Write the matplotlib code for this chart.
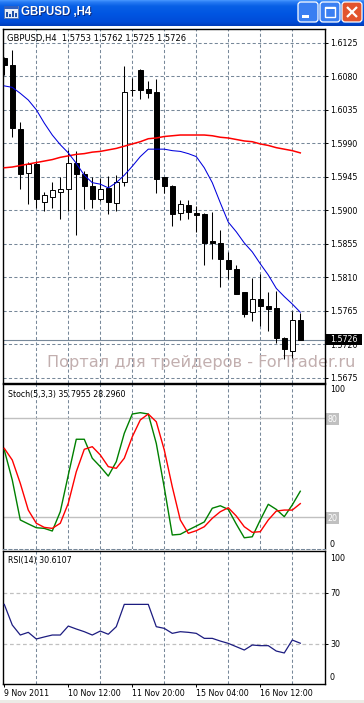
import numpy as np
import matplotlib
matplotlib.use('Agg')
import matplotlib.pyplot as plt
from matplotlib.patches import Rectangle, FancyBboxPatch
from matplotlib.transforms import blended_transform_factory

# GBPUSD H4 bars
opens = [1.6104, 1.6095, 1.6009, 1.5950, 1.5962, 1.5911, 1.5918, 1.5925, 1.5928, 1.5964,
         1.5948, 1.5933, 1.5915, 1.5930, 1.5910, 1.5938, 1.6062, 1.6088, 1.6063, 1.6059,
         1.5944, 1.5933, 1.5896, 1.5907, 1.5896, 1.5895, 1.5859, 1.5856, 1.5833, 1.5821,
         1.5790, 1.5763, 1.5781, 1.5771, 1.5769, 1.5728, 1.5711, 1.5753]
highs = [1.6106, 1.6115, 1.6019, 1.5965, 1.5966, 1.5925, 1.5938, 1.5944, 1.5981, 1.5979,
         1.5952, 1.5945, 1.5943, 1.5946, 1.5947, 1.6094, 1.6077, 1.6089, 1.6073, 1.6076,
         1.5945, 1.5934, 1.5914, 1.5914, 1.5905, 1.5896, 1.5897, 1.5873, 1.5844, 1.5826,
         1.5790, 1.5809, 1.5814, 1.5790, 1.5791, 1.5730, 1.5764, 1.5762]
lows = [1.6082, 1.5999, 1.5929, 1.5909, 1.5903, 1.5899, 1.5903, 1.5888, 1.5899, 1.5867,
        1.5902, 1.5903, 1.5913, 1.5895, 1.5899, 1.5933, 1.6053, 1.6050, 1.6051, 1.5923,
        1.5923, 1.5879, 1.5887, 1.5888, 1.5871, 1.5827, 1.5835, 1.5797, 1.5808, 1.5787,
        1.5756, 1.5751, 1.5744, 1.5738, 1.5721, 1.5700, 1.5701, 1.5725]
closes = [1.6095, 1.6010, 1.5948, 1.5962, 1.5915, 1.5920, 1.5927, 1.5929, 1.5963, 1.5948,
          1.5933, 1.5915, 1.5928, 1.5911, 1.5938, 1.6059, 1.6061, 1.6061, 1.6058, 1.5942,
          1.5933, 1.5895, 1.5908, 1.5897, 1.5893, 1.5856, 1.5856, 1.5834, 1.5821, 1.5788,
          1.5761, 1.5781, 1.5771, 1.5767, 1.5729, 1.5713, 1.5753, 1.5726]

# moving averages
ma_fast = [1.6067, 1.6065, 1.6057, 1.6048, 1.6035, 1.6017, 1.6001, 1.5988, 1.5977, 1.5963,
           1.5947, 1.5937, 1.5935, 1.5930, 1.5937, 1.5947, 1.5959, 1.5972, 1.5982, 1.5982,
           1.5982, 1.5980, 1.5979, 1.5976, 1.5972, 1.5957, 1.5937, 1.5910, 1.5884, 1.5871,
           1.5856, 1.5844, 1.5828, 1.5813, 1.5795, 1.5784, 1.5774, 1.5763]
ma_slow = [1.5957, 1.5958, 1.5960, 1.5962, 1.5964, 1.5966, 1.5968, 1.5971, 1.5973, 1.5975,
           1.5976, 1.5978, 1.5979, 1.5981, 1.5983, 1.5986, 1.5989, 1.5992, 1.5996, 1.5997,
           1.5999, 1.6000, 1.6001, 1.6001, 1.6001, 1.6001, 1.6000, 1.5998, 1.5997, 1.5995,
           1.5993, 1.5992, 1.5989, 1.5987, 1.5984, 1.5982, 1.5980, 1.5977]

# Stochastic(5,3,3)
stoch_main = [60.8, 42.6, 18.4, 16.0, 13.7, 13.3, 11.7, 23.4, 45.6, 67.3,
              67.3, 55.8, 50.7, 45.0, 53.7, 70.9, 82.6, 83.4, 82.6, 64.8,
              38.0, 9.3, 9.7, 12.3, 14.7, 17.2, 25.5, 27.0, 24.8, 15.9,
              7.6, 8.2, 18.4, 27.9, 24.8, 20.4, 27.5, 35.7955]
stoch_signal = [61.8, 54.7, 40.6, 24.4, 16.4, 13.9, 13.3, 16.4, 28.5, 47.6,
                61.2, 62.8, 57.8, 50.7, 49.7, 55.8, 68.8, 79.0, 82.6, 77.9,
                60.8, 38.5, 18.4, 10.3, 11.9, 14.3, 19.4, 23.4, 25.8, 20.8,
                14.3, 10.9, 11.3, 18.4, 23.8, 24.4, 24.4, 28.2960]

# RSI(14)
rsi = [60.9, 44.8, 37.0, 39.1, 33.9, 35.5, 37.0, 37.0, 44.0, 41.7,
       39.6, 37.0, 40.1, 37.6, 43.5, 60.9, 60.9, 60.9, 60.9, 43.5,
       42.2, 38.3, 39.6, 39.1, 38.3, 34.4, 34.4, 32.3, 30.5, 27.9,
       25.3, 29.2, 28.7, 28.7, 24.5, 23.0, 33.1, 30.6107]

price_ticks = [1.5675, 1.5720, 1.5765, 1.5810, 1.5855, 1.5900, 1.5945, 1.5990, 1.6035, 1.6080, 1.6125]
time_idx = [0, 8, 16, 24, 32]
time_labels = ['9 Nov 2011', '10 Nov 12:00', '11 Nov 20:00', '15 Nov 04:00', '16 Nov 12:00']

W, H = 364, 703
fig = plt.figure(figsize=(W / 100, H / 100), dpi=100)
fig.patch.set_facecolor('white')


def box(x0, y0, x1, y1):
    # pixel rectangle (origin top left) -> figure fraction
    return [x0 / W, 1 - y1 / H, (x1 - x0) / W, (y1 - y0) / H]


GRID = dict(color='#778899', linestyle=(0, (3, 2.2)), linewidth=0.75)
FS = 5.7

ax_main = fig.add_axes(box(3, 28.7, 325, 382.7))
ax_sto = fig.add_axes(box(3, 384.3, 325, 549))
ax_rsi = fig.add_axes(box(3, 551.3, 325, 684))

x = np.arange(len(opens))
for ax in (ax_main, ax_sto, ax_rsi):
    ax.set_xlim(-0.16, 40.09)
    ax.set_xticks([])
    ax.set_xticks(np.arange(4, 40, 4), minor=True)
    ax.grid(True, which='minor', axis='x', **GRID)
    ax.tick_params(which='minor', length=0)
    ax.set_axisbelow(True)
    ax.yaxis.tick_right()
    for s in ax.spines.values():
        s.set_linewidth(1.0)
        s.set_color('black')

# ---- main price window ----
ax_main.set_ylim(1.56683, 1.61438)
ax_main.set_yticks(price_ticks)
ax_main.set_yticklabels([f'{p:.4f}' for p in price_ticks])
ax_main.grid(True, which='major', axis='y', **GRID)
ax_main.tick_params(axis='y', direction='out', length=2.2, width=0.7, pad=1.4, labelsize=FS)

ax_main.axhline(closes[-1], color='#778899', lw=0.8, zorder=1)

o = np.array(opens)
c = np.array(closes)
up = c >= o
ax_main.vlines(x, lows, highs, color='black', lw=0.75, zorder=3)
ax_main.bar(x, np.maximum(np.abs(c - o), 0.00008), bottom=np.minimum(o, c), width=0.6,
            color=np.where(up, 'white', 'black'), edgecolor='black', linewidth=0.7, zorder=4)
ax_main.plot(x, ma_slow, color='#ff0000', lw=1.1, zorder=5)
ax_main.plot(x, ma_fast, color='#0000dd', lw=0.75, zorder=5)

ax_main.text(4.3 / 322, 1 - (38 - 28.7) / 354,
             f'GBPUSD,H4  {opens[-1]:.4f} {highs[-1]:.4f} {lows[-1]:.4f} {closes[-1]:.4f}',
             transform=ax_main.transAxes, fontsize=6, va='center', ha='left')

# bid line label on the price scale (covers the 1.5720 label, as in the terminal)
bt = blended_transform_factory(ax_main.transAxes, ax_main.transData)
ax_main.add_patch(Rectangle((1.0015, closes[-1] - 0.00075), 0.1135, 0.00152, transform=bt,
                            facecolor='black', edgecolor='none', clip_on=False, zorder=6))
ax_main.text(1.0 + 5 / 322, closes[-1], f'{closes[-1]:.4f}', transform=bt, color='white',
             fontsize=FS, va='center', ha='left', clip_on=False, zorder=7)

ax_main.text((201 - 3) / 322, 1 - (362.5 - 28.7) / 354, 'Портал для трейдеров - ForTrader.ru',
             transform=ax_main.transAxes, fontsize=11.6, color='#c2afaf', ha='center',
             va='center', clip_on=False, zorder=2)

# ---- stochastic window ----
ax_sto.set_ylim(0.8, 100.6)
ax_sto.axhline(80, color='#c0c0c0', lw=1.0, zorder=1)
ax_sto.axhline(20, color='#c0c0c0', lw=1.0, zorder=1)
ax_sto.plot(x, stoch_main, color='#008000', lw=1.0, zorder=3)
ax_sto.plot(x, stoch_signal, color='#ff0000', lw=1.0, zorder=3)
ax_sto.spines['bottom'].set_linestyle((0, (3, 2.2)))
ax_sto.spines['bottom'].set_color('#778899')
ax_sto.spines['bottom'].set_linewidth(0.75)
ax_sto.set_yticks([20, 80])
ax_sto.tick_params(axis='y', length=0, pad=1.9, labelsize=FS, labelcolor='white')
for t in ax_sto.get_yticklabels():
    t.set_bbox(dict(facecolor='#c0c0c0', edgecolor='none', pad=1.2))
bs = blended_transform_factory(ax_sto.transAxes, ax_sto.transData)
ax_sto.text(1 + 5 / 322, 100, '100', transform=bs, fontsize=FS, va='top', ha='left', clip_on=False)
ax_sto.text(1 + 5 / 322, 0, '0', transform=ax_sto.transAxes, fontsize=FS, va='bottom',
            ha='left', clip_on=False)
ax_sto.text(4.5 / 322, 1 - (394 - 384.3) / 164.7,
            f'Stoch(5,3,3) {stoch_main[-1]:.4f} {stoch_signal[-1]:.4f}',
            transform=ax_sto.transAxes, fontsize=FS, va='center', ha='left')

# ---- RSI window ----
ax_rsi.set_ylim(-1.2, 102.3)
ax_rsi.axhline(70, color='#c0c0c0', lw=0.9, linestyle=(0, (3, 2.2)), zorder=1)
ax_rsi.axhline(30, color='#c0c0c0', lw=0.9, linestyle=(0, (3, 2.2)), zorder=1)
ax_rsi.plot(x, rsi, color='#1c1c80', lw=0.9, zorder=3)
ax_rsi.set_yticks([30, 70])
ax_rsi.tick_params(axis='y', direction='out', length=2.2, width=0.7, pad=1.4, labelsize=FS)
br = blended_transform_factory(ax_rsi.transAxes, ax_rsi.transData)
ax_rsi.text(1 + 5 / 322, 100, '100', transform=br, fontsize=FS, va='top', ha='left', clip_on=False)
ax_rsi.text(1 + 5 / 322, 0, '0', transform=br, fontsize=FS, va='bottom', ha='left', clip_on=False)
ax_rsi.text(4.5 / 322, 1 - (561 - 551.3) / 132.7, f'RSI(14) {rsi[-1]:.4f}',
            transform=ax_rsi.transAxes, fontsize=FS, va='center', ha='left')

ax_rsi.set_xticks(time_idx)
ax_rsi.set_xticklabels(time_labels, ha='left')
ax_rsi.tick_params(axis='x', which='major', direction='out', length=2.5, width=0.7, pad=0.8,
                   labelsize=FS)

# ---- window title bar ----
tb = fig.add_axes(box(0, 0, 364, 26))
tb.set_xlim(0, 364)
tb.set_ylim(26, 0)
tb.axis('off')
stops = np.array([0, 2, 6, 14, 22, 26])
cols = np.array([[0x4a, 0x98, 0xff], [0x28, 0x7c, 0xf4], [0x08, 0x60, 0xe6],
                 [0x00, 0x55, 0xe2], [0x00, 0x4c, 0xd8], [0x00, 0x3c, 0xb8]]) / 255
rows = np.arange(26) + 0.5
grad = np.stack([np.interp(rows, stops, cols[:, k]) for k in range(3)], axis=1)
tb.imshow(grad[:, None, :], extent=(0, 364, 26, 0), aspect='auto')

# icon
tb.add_patch(Rectangle((4, 6), 14, 12, facecolor='#e8eef8', edgecolor='#5c7cb8', lw=0.7))
tb.add_patch(Rectangle((4, 6), 14, 3, facecolor='#3060c0', edgecolor='none'))
for bx, bh in [(6, 5), (9, 3), (12, 6), (15, 4)]:
    tb.add_patch(Rectangle((bx, 17 - bh), 1.6, bh, facecolor='#2050a8', edgecolor='none'))

tb.text(22, 13.4, 'GBPUSD ,H4', color='#0a2a80', fontsize=8.3, fontweight='bold',
        family='Liberation Sans', va='center', ha='left')
tb.text(21, 12.4, 'GBPUSD ,H4', color='white', fontsize=8.3, fontweight='bold',
        family='Liberation Sans', va='center', ha='left')

for bx, face in [(298, '#3a7ff2'), (320, '#3a7ff2'), (342, '#e2542e')]:
    tb.add_patch(FancyBboxPatch((bx, 2), 20, 20, boxstyle='round,pad=0,rounding_size=3',
                                facecolor=face, edgecolor='white', lw=0.9))
tb.add_patch(Rectangle((302, 15), 7, 3, facecolor='white', edgecolor='none'))
tb.add_patch(Rectangle((325, 6.5), 10, 10, facecolor='none', edgecolor='white', lw=1.0))
tb.add_patch(Rectangle((325, 6.5), 10, 2, facecolor='white', edgecolor='none'))
tb.plot([347, 357], [7, 17], color='white', lw=1.6, solid_capstyle='butt')
tb.plot([347, 357], [17, 7], color='white', lw=1.6, solid_capstyle='butt')

# bottom window edge
fig.patches.append(Rectangle((0, 0), 1, 3.5 / H, transform=fig.transFigure,
                             facecolor='#ecebe6', edgecolor='none'))

fig.savefig('out.png', dpi=100)
